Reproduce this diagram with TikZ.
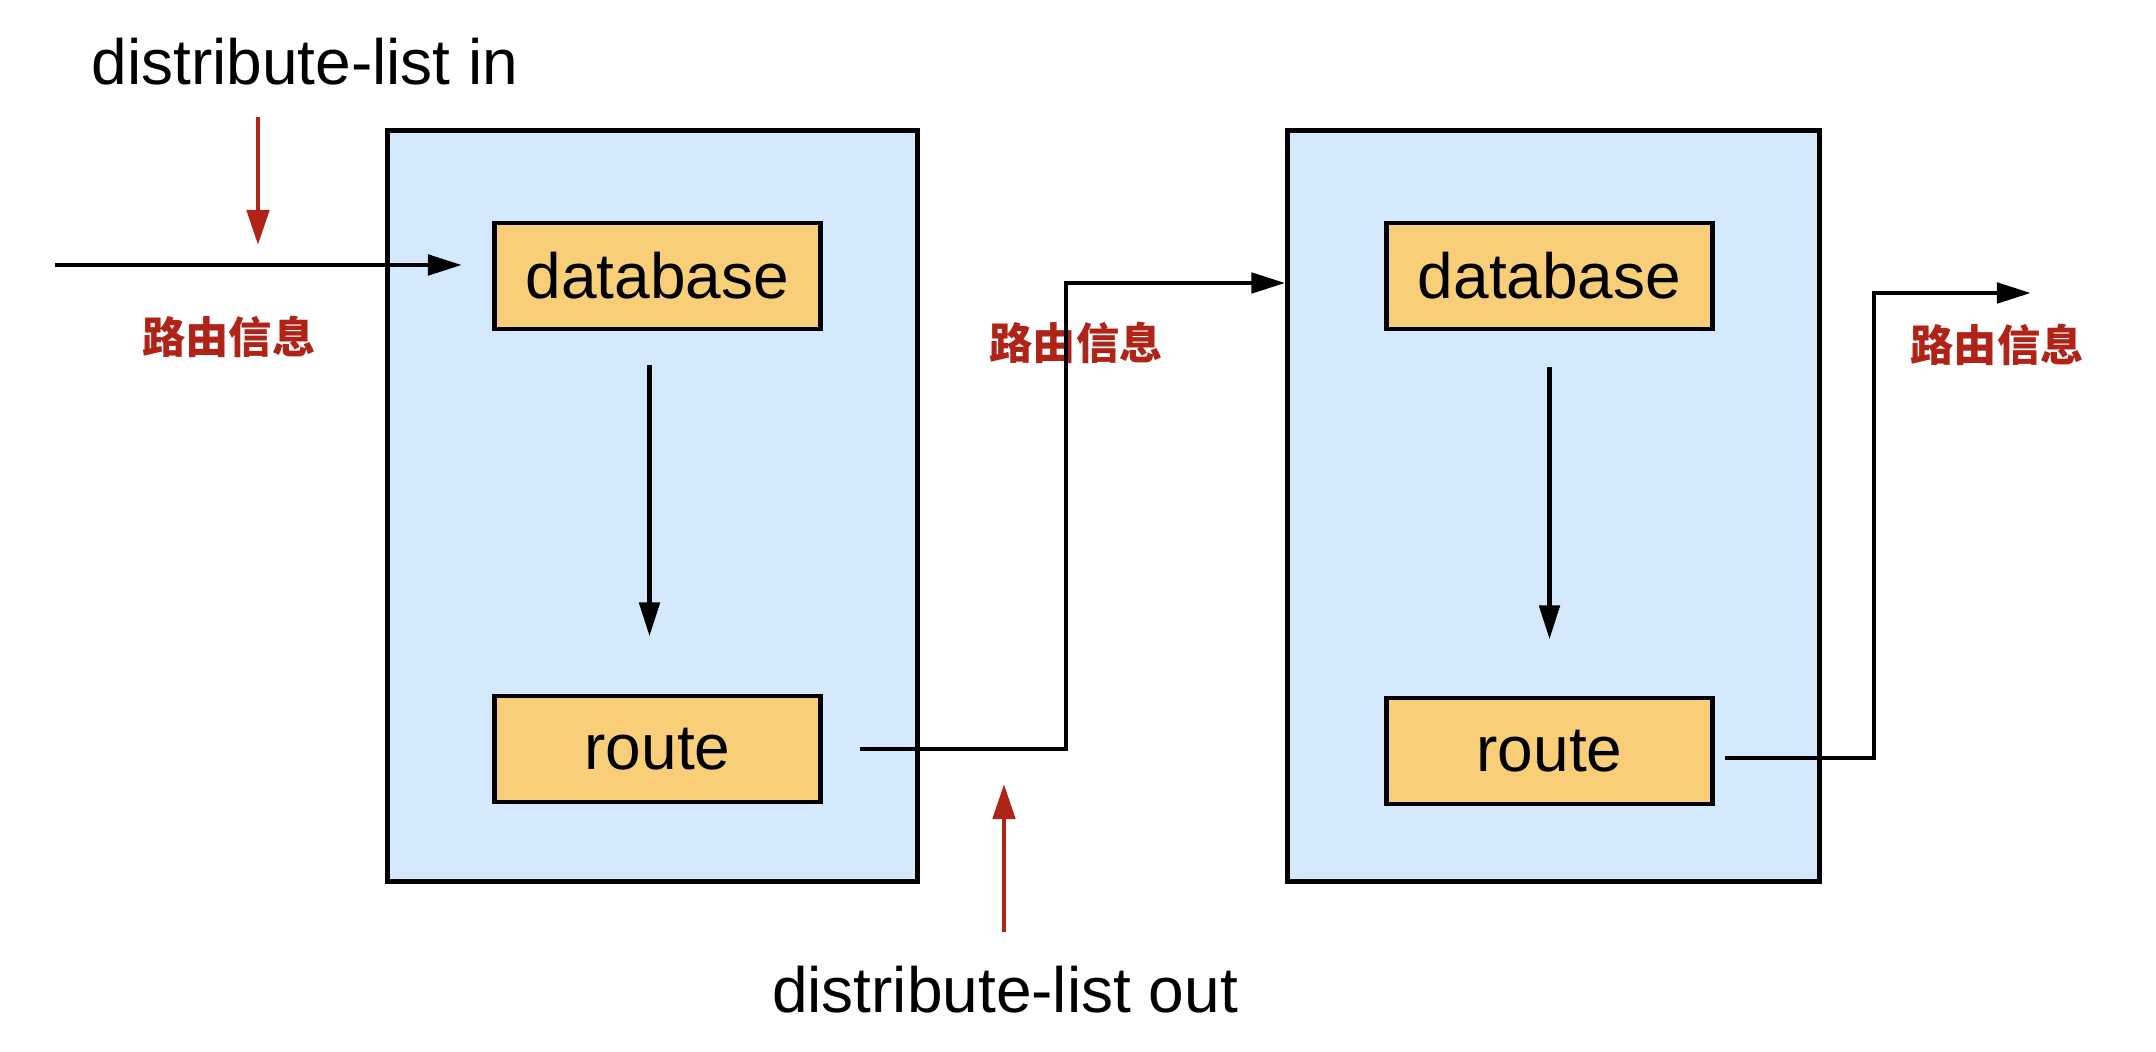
\documentclass[tikz,border=0pt]{standalone}
\usepackage{fontspec}
\setmainfont{Liberation Sans}
\newfontfamily\cjkfont{Noto Sans CJK SC}
\usetikzlibrary{arrows.meta}
\definecolor{boxblue}{HTML}{D4EAFC}
\definecolor{boxyellow}{HTML}{F8CE78}
\definecolor{notered}{HTML}{B02418}

\begin{document}
\begin{tikzpicture}[x=0.01cm, y=-0.01cm, line width=1.4pt,
    router/.style={draw=black, fill=boxblue, minimum width=5.29cm, minimum height=7.5cm},
    module/.style={draw=black, fill=boxyellow, minimum width=3.25cm, minimum height=1.06cm,
        font=\fontsize{18.2pt}{20pt}\selectfont},
    listtext/.style={inner sep=0pt, font=\fontsize{18.2pt}{20pt}\selectfont},
    infotext/.style={inner sep=0pt, text=notered, font=\cjkfont\bfseries\fontsize{12.3pt}{14pt}\selectfont},
    flow/.style={draw=black, -{Triangle[length=0.34cm, width=0.2cm]}},
    hint/.style={draw=notered, -{Triangle[length=0.35cm, width=0.22cm]}}]
\useasboundingbox[fill=white] (0,0) rectangle (2156,1052);
% routers
\node[router] (r1) at (652.5,506) {};
\node[router, minimum width=5.31cm] (r2) at (1553.5,506) {};
% modules
\node[module] (db1) at (657.5,276) {database};
\node[module] (route1) at (657.5,749) {route};
\node[module] (db2) at (1549.5,276) {database};
\node[module] (route2) at (1549.5,751) {route};
% texts
\node[listtext, anchor=base] (lstIn) at (305,85) {distribute-list in};
\node[listtext, anchor=base] (lstOut) at (1005,1013) {distribute-list out};
\node[infotext] (info1) at (229,337) {路由信息};
\node[infotext] (info2) at (1076,343) {路由信息};
\node[infotext] (info3) at (1997,345) {路由信息};
% route flow
\coordinate (src) at (55,265);
\coordinate (dst) at (462,265);
\draw[flow] (src) -- (dst);
\draw[flow, shorten <=0.33cm, shorten >=0.57cm] ([xshift=-0.08cm]db1.south) -- ([xshift=-0.08cm]route1.north);
\draw[flow, shorten <=0.35cm, shorten >=0.56cm] (db2.south) -- (route2.north);
\coordinate (up1) at (1066,283);
\draw[flow] ([xshift=0.37cm]route1.east) -| (up1) -- (up1 -| r2.west);
\coordinate (up2) at (1874,293);
\coordinate (out2) at (2031,293);
\draw[flow] ([xshift=0.1cm, yshift=-0.07cm]route2.east) -| (up2) -- (out2);
% distribute-list marks
\coordinate (hintInS) at (258,117);
\coordinate (hintInE) at (258,245);
\draw[hint] (hintInS) -- (hintInE);
\coordinate (hintOutS) at (1004,932);
\coordinate (hintOutE) at (1004,784);
\draw[hint] (hintOutS) -- (hintOutE);
\end{tikzpicture}
\end{document}
